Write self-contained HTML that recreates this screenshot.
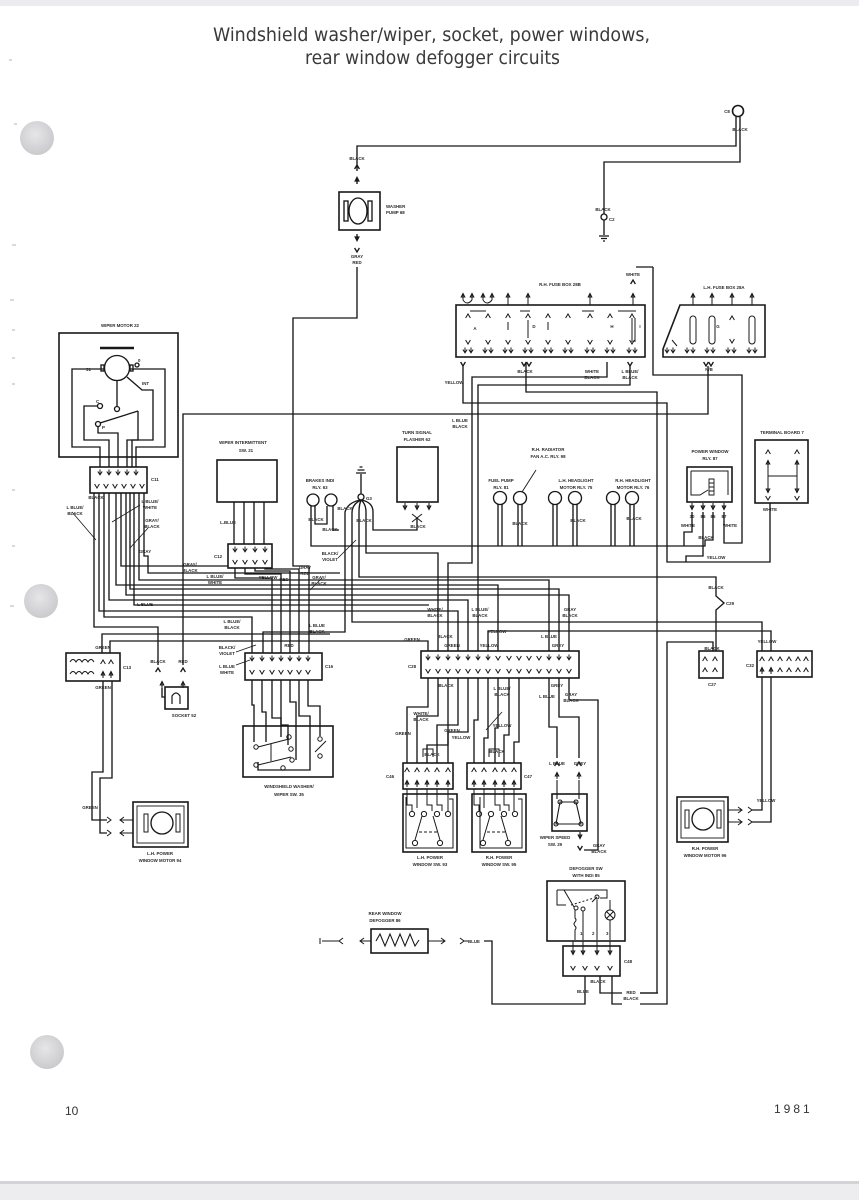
<!DOCTYPE html>
<html><head><meta charset="utf-8">
<style>
html,body{margin:0;padding:0;background:#fff;}
svg{display:block}
.t{font-family:"Liberation Sans",Arial,sans-serif;font-weight:bold;font-size:4.4px;fill:#2a2a2a;text-anchor:middle}
.tl{font-family:"Liberation Sans",Arial,sans-serif;font-weight:bold;font-size:4.4px;fill:#2a2a2a}
</style></head><body>
<svg width="859" height="1200" viewBox="0 0 859 1200" xmlns="http://www.w3.org/2000/svg">
<defs>
<radialGradient id="hole" cx="45%" cy="40%" r="65%">
<stop offset="0" stop-color="#e6e6e8"/><stop offset="1" stop-color="#c8c8cc"/>
</radialGradient>
<path id="v" d="M-2.4,-2 L0,2 L2.4,-2"/>
<path id="u" d="M-2.4,2 L0,-2 L2.4,2"/>
<path id="d" d="M-2.2,-1.5 L0,1.8 L2.2,-1.5 M0,1.8 V-3.5"/>
<path id="au" d="M-1.8,1 L0,-2.5 L1.8,1 Z M0,-2.5 V4"/>
<path id="ad" d="M-1.8,-1 L0,2.5 L1.8,-1 Z M0,2.5 V-4"/>
</defs>
<rect width="859" height="1200" fill="#fff"/>
<rect width="859" height="6" fill="#ececf0"/>
<rect y="1182" width="859" height="18" fill="#ededf0"/>
<rect y="1181" width="859" height="3" fill="#d4d4d8"/>

<!-- holes -->
<circle cx="37" cy="138" r="17" fill="url(#hole)"/>
<circle cx="41" cy="601" r="17" fill="url(#hole)"/>
<circle cx="47" cy="1052" r="17" fill="url(#hole)"/>

<!-- margin ticks -->
<g stroke="#9a9a9a" stroke-width="0.8">
<path d="M9,60 h3 M12,245 h4 M10,300 h4 M12,330 h3 M12,358 h3 M12,384 h3 M12,490 h3 M12,546 h3 M10,606 h4 M14,124 h3"/>
</g>

<!-- title -->
<text x="213" y="41" font-family="DejaVu Sans Condensed, Liberation Sans Narrow, Liberation Sans, Arial, sans-serif" font-size="19" fill="#3a3a3a" textLength="437" lengthAdjust="spacingAndGlyphs">Windshield washer/wiper, socket, power windows,</text>
<text x="305" y="64" font-family="DejaVu Sans Condensed, Liberation Sans Narrow, Liberation Sans, Arial, sans-serif" font-size="19" fill="#3a3a3a" textLength="255" lengthAdjust="spacingAndGlyphs">rear window defogger circuits</text>

<!-- footer -->
<text x="65" y="1115" font-family="Liberation Sans, Arial, sans-serif" font-size="12" fill="#333">10</text>
<text x="774" y="1113" font-family="Liberation Sans, Arial, sans-serif" font-size="12" fill="#333" letter-spacing="3">1981</text>

<g fill="none" stroke="#181818" stroke-width="1.35">
<!-- TOP wires -->
<path d="M357,171 V146 H736 V117"/>
<circle cx="738" cy="111" r="5.5" stroke-width="1.6"/>
<path d="M740,117 V162 H604 V214"/>
<circle cx="604" cy="217" r="3"/>
<path d="M604,220 V235 M599,236 h10 M601,238.5 h6 M603,241 h2"/>
<use href="#u" x="357" y="167"/>
<use href="#au" x="357" y="180"/>
<!-- washer pump -->
<rect x="339" y="192" width="41" height="38" stroke-width="1.6"/>
<ellipse cx="358" cy="211" rx="9" ry="13"/>
<rect x="344" y="201" width="4" height="20"/>
<rect x="368" y="201" width="4" height="20"/>
<use href="#ad" x="357" y="238"/>
<use href="#v" x="357" y="250"/>
<path d="M357,267 V318 H293 V566 H309 V653"/>

<!-- RH fuse box 28B -->
<rect x="456" y="305" width="189" height="52" stroke-width="1.6"/>
<g stroke-width="1">
<use href="#u" x="468" y="316"/><use href="#u" x="488" y="316"/><use href="#u" x="508" y="316"/><use href="#u" x="528" y="316"/><use href="#u" x="548" y="316"/><use href="#u" x="568" y="316"/><use href="#u" x="590" y="316"/><use href="#u" x="610" y="316"/><use href="#u" x="632" y="316"/>
<use href="#v" x="468" y="342"/><use href="#v" x="488" y="342"/><use href="#v" x="508" y="342"/><use href="#v" x="528" y="342"/><use href="#v" x="548" y="342"/><use href="#v" x="568" y="342"/><use href="#v" x="590" y="342"/><use href="#v" x="610" y="342"/><use href="#v" x="632" y="342"/>
<path d="M508,322 v8 M528,320 v18 M548,322 v8 M632,318 v24 M635,318 v24 M470,311 h16 M520,311 h10 M582,311 h12 M618,311 h18"/>
<use href="#d" x="465" y="351"/><use href="#d" x="471" y="351"/><use href="#d" x="485" y="351"/><use href="#d" x="491" y="351"/><use href="#d" x="505" y="351"/><use href="#d" x="511" y="351"/><use href="#d" x="525" y="351"/><use href="#d" x="531" y="351"/><use href="#d" x="545" y="351"/><use href="#d" x="551" y="351"/><use href="#d" x="565" y="351"/><use href="#d" x="571" y="351"/><use href="#d" x="587" y="351"/><use href="#d" x="593" y="351"/><use href="#d" x="607" y="351"/><use href="#d" x="613" y="351"/><use href="#d" x="629" y="351"/><use href="#d" x="635" y="351"/>
<use href="#au" x="463" y="296"/><use href="#au" x="472" y="296"/><use href="#au" x="483" y="296"/><use href="#au" x="492" y="296"/><use href="#au" x="508" y="296"/><use href="#au" x="528" y="296"/><use href="#au" x="590" y="296"/><use href="#au" x="633" y="296"/>
<path d="M463,300 q4,6 9,0 M483,300 q4,6 9,0 M508,300 v5 M528,300 v5 M590,300 v5 M633,300 v5"/>
</g>
<!-- LH fuse box 28A -->
<path d="M680,305 H765 V357 H663 V349 Z" stroke-width="1.6"/>
<g stroke-width="1">
<rect x="690" y="316" width="6" height="28" rx="3"/>
<rect x="709" y="316" width="6" height="28" rx="3"/>
<rect x="749" y="316" width="6" height="28" rx="3"/>
<use href="#u" x="732" y="318"/><use href="#v" x="732" y="341"/>
<use href="#au" x="693" y="296"/><use href="#au" x="712" y="296"/><use href="#au" x="732" y="296"/><use href="#au" x="752" y="296"/>
<path d="M693,300 v5 M712,300 v5 M732,300 v5 M752,300 v5 M672,340 l5,6"/>
<use href="#d" x="667" y="351"/><use href="#d" x="673" y="351"/><use href="#d" x="687" y="351"/><use href="#d" x="693" y="351"/><use href="#d" x="707" y="351"/><use href="#d" x="713" y="351"/><use href="#d" x="728" y="351"/><use href="#d" x="734" y="351"/><use href="#d" x="749" y="351"/><use href="#d" x="755" y="351"/>
</g>
<!-- white from 28B top -->
<use href="#u" x="633" y="282"/>
<path d="M653,267 H636 M653,267 V375 H742 V543 H724 V512"/>
<!-- fuse box outputs -->
<path d="M463,366 V403 H667 V562 H770 V503"/>
<use href="#v" x="463" y="364"/>
<path d="M526,362 V392 H657 V993 H640"/>
<use href="#v" x="524" y="364"/><use href="#v" x="529" y="364"/>
<path d="M607,362 V377 H472 V563 H448 V651"/>
<path d="M630,366 V385 H478 V651"/>
<use href="#v" x="630" y="364"/>
<use href="#v" x="706" y="364"/><use href="#v" x="711" y="364"/>
<path d="M708,366 V414 H183 V665"/>

<!-- WIPER MOTOR 22 -->
<rect x="59" y="333" width="119" height="124" stroke-width="1.6"/>
<path d="M100,348 H134" stroke-width="2.6"/>
<circle cx="117" cy="368" r="12.5"/>
<rect x="101" y="365" width="3" height="6"/>
<rect x="130" y="365" width="3" height="6"/>
<path d="M104,369 H72 V447 H100 V467"/>
<path d="M130,369 H165 V447 H136 V467"/>
<path d="M117,381 V406"/>
<circle cx="117" cy="409" r="2.5"/>
<circle cx="100" cy="406" r="2.5"/>
<circle cx="98" cy="424" r="2.5"/>
<path d="M100,423 L138,411"/>
<path d="M97,406 H84 V440 H109 V467"/>
<path d="M98,427 V433 H118 V467"/>
<path d="M138,411 V440 H127 V467"/>
<path d="M127,377 L142,390 H153 V440 H132 V467" />
<circle cx="137" cy="365" r="2"/>
<!-- C11 -->
<rect x="90" y="467" width="57" height="26" stroke-width="1.6"/>
<g stroke-width="1"><use href="#d" x="100" y="473"/><use href="#d" x="109" y="473"/><use href="#d" x="118" y="473"/><use href="#d" x="127" y="473"/><use href="#d" x="136" y="473"/>
<use href="#v" x="97" y="486"/><use href="#v" x="106" y="486"/><use href="#v" x="115" y="486"/><use href="#v" x="124" y="486"/><use href="#v" x="133" y="486"/><use href="#v" x="142" y="486"/></g>

<!-- C11 bundle -->
<path d="M94,493 V627 H158 V665"/>
<path d="M99,493 V611 H458 V651"/>
<path d="M104,493 V617 H252 V653"/>
<path d="M109,493 V600 H468 V651"/>
<path d="M116,493 V585 H498 V651"/>
<path d="M121,493 V566 H228"/>
<path d="M126,493 V595 H569 V651"/>
<path d="M130,493 V589 H559 V651"/>
<path d="M134,493 V605 H429"/>
<path d="M139,493 V580 H549 V651"/>
<path d="M144,493 V556 H148 V573 H340"/>
<path d="M72,512 L96,540 M140,505 L112,522 M148,528 L130,548" stroke-width="0.8"/>

<!-- WIPER INTERMITTENT 21 -->
<rect x="217" y="460" width="60" height="42" stroke-width="1.6"/>
<path d="M234,502 V544 M244,502 V544 M254,502 V544 M264,502 V544"/>
<rect x="228" y="544" width="44" height="24" stroke-width="1.6"/>
<g stroke-width="1"><use href="#d" x="235" y="550"/><use href="#d" x="245" y="550"/><use href="#d" x="255" y="550"/><use href="#d" x="265" y="550"/>
<use href="#v" x="235" y="562"/><use href="#v" x="245" y="562"/><use href="#v" x="255" y="562"/><use href="#v" x="265" y="562"/></g>
<path d="M235,568 V578 H272 V653"/>
<path d="M245,568 V574 H281 V653"/>
<path d="M255,568 V571 H290 V653"/>
<path d="M265,568 V569 H299 V653"/>

<!-- brakes, G3, flasher -->
<circle cx="313" cy="500" r="6"/>
<circle cx="331" cy="500" r="6"/>
<path d="M311,506 V546 H705 V540 H713 V512"/>
<path d="M315,506 V524 H327 V506 M333,506 V530 H339"/>
<circle cx="361" cy="497" r="3"/>
<path d="M361,494 V474 M356,473 h10 M357.5,470 h7 M359.5,467 h3"/>
<path d="M361,500 Q348,502 345,512 V632 H263 V653"/>
<path d="M361,500 Q352,504 352,513 V622 H762 V651"/>
<path d="M361,500 Q359,505 359,512 V577 H716 V596 L724,603 L716,610 V651"/>
<path d="M361,500 Q366,504 366,512 V553 H438 V651"/>
<path d="M361,500 Q373,502 373,512 V530 H417 V518"/>
<path d="M412,514 l10,8 M422,514 l-10,8" stroke-width="1"/>
<path d="M338,558 L356,540 M310,590 L322,578" stroke-width="0.8"/>
<rect x="397" y="447" width="41" height="55" stroke-width="1.6"/>
<g stroke-width="1"><use href="#ad" x="405" y="507"/><use href="#ad" x="417" y="507"/><use href="#ad" x="429" y="507"/></g>

<!-- relays -->
<circle cx="500" cy="498" r="6.5"/><circle cx="520" cy="498" r="6.5"/>
<circle cx="555" cy="498" r="6.5"/><circle cx="575" cy="498" r="6.5"/>
<circle cx="613" cy="498" r="6.5"/><circle cx="632" cy="498" r="6.5"/>
<path d="M498,504 V546 M502,504 V546 M518,504 V546 M522,504 V546 M553,504 V546 M557,504 V546 M573,504 V546 M577,504 V546 M611,504 V546 M615,504 V546 M630,504 V546 M634,504 V546"/>
<path d="M522,492 L536,470" stroke-width="0.9"/>

<!-- power window relay 87 -->
<rect x="687" y="467" width="45" height="35" stroke-width="1.6"/>
<path d="M691,471 H728 V495 M691,471 V495 H700 L708,490" stroke-width="1"/>
<path d="M709,479 h5 v16 h-5 z M709,483 h5 M709,487 h5 M709,491 h5" stroke-width="0.9"/>
<g stroke-width="1"><use href="#ad" x="692" y="507"/><use href="#ad" x="703" y="507"/><use href="#ad" x="713" y="507"/><use href="#ad" x="724" y="507"/></g>
<path d="M692,512 V532 H684 V546 M703,512 V556 H686 V562"/>

<!-- terminal board 7 -->
<rect x="755" y="440" width="53" height="63" stroke-width="1.6"/>
<g stroke-width="1"><use href="#u" x="768" y="452"/><use href="#u" x="797" y="452"/>
<path d="M768,460 V493 M797,460 V493 M768,476 H797"/>
<use href="#au" x="768" y="463"/><use href="#au" x="797" y="463"/>
<use href="#ad" x="768" y="490"/><use href="#ad" x="797" y="490"/>
<use href="#v" x="768" y="498"/><use href="#v" x="797" y="498"/></g>

<!-- green to C13 and C13 -->
<path d="M110,653 V641 H428 V651"/>
<path d="M102,653 V634 H330"/>
<rect x="66" y="653" width="54" height="28" stroke-width="1.6"/>
<path d="M70,662 q3,-5 6,0 q3,-5 6,0 q3,-5 6,0 q3,-5 6,0 M70,674 q3,-5 6,0 q3,-5 6,0 q3,-5 6,0 q3,-5 6,0" stroke-width="1"/>
<g stroke-width="1"><use href="#u" x="103" y="662"/><use href="#u" x="111" y="662"/><use href="#au" x="103" y="674"/><use href="#au" x="111" y="674"/></g>
<path d="M103,681 V772 H92 V820 H107 M112,681 V778 H100 V833 H107"/>
<path d="M107,817 l4,3 l-4,3 M107,830 l4,3 l-4,3" stroke-width="1"/>
<path d="M120,820 H133 M120,833 H133 M124,817 l-4,3 l4,3 M124,830 l-4,3 l4,3" stroke-width="1"/>
<!-- LH power window motor 94 -->
<rect x="133" y="802" width="55" height="45" stroke-width="1.6"/>
<rect x="137" y="806" width="47" height="37" stroke-width="0.9"/>
<circle cx="162" cy="823" r="11"/>
<path d="M144,814 h4 v18 h-4 z M176,814 h4 v18 h-4 z" stroke-width="1"/>

<!-- socket 52 -->
<use href="#u" x="158" y="670"/><use href="#u" x="183" y="670"/>
<g stroke-width="1"><use href="#au" x="162" y="684"/><use href="#au" x="183" y="684"/></g>
<path d="M162,688 V697 H165"/>
<rect x="165" y="687" width="23" height="22" stroke-width="1.6"/>
<path d="M172,704 V696 q4,-6 8,0 V704" stroke-width="1.2"/>

<!-- C16 -->
<rect x="245" y="653" width="77" height="27" stroke-width="1.6"/>
<g stroke-width="1"><use href="#d" x="252" y="659"/><use href="#d" x="262" y="659"/><use href="#d" x="272" y="659"/><use href="#d" x="281" y="659"/><use href="#d" x="290" y="659"/><use href="#d" x="299" y="659"/><use href="#d" x="308" y="659"/>
<use href="#v" x="252" y="672"/><use href="#v" x="262" y="672"/><use href="#v" x="272" y="672"/><use href="#v" x="281" y="672"/><use href="#v" x="290" y="672"/><use href="#v" x="299" y="672"/><use href="#v" x="308" y="672"/></g>
<path d="M236,652 L256,645 M236,665 L250,660" stroke-width="0.8"/>
<path d="M252,680 V705 H254 V742"/>
<path d="M262,680 V712 H266 V742"/>
<path d="M272,680 V718 H281 V737"/>
<path d="M281,680 V725 H288 V745"/>
<path d="M290,680 V702 H296 V760"/>
<path d="M299,680 V716 H310 V770 H258 V762"/>
<path d="M308,680 V706 H320 V736"/>
<!-- washer/wiper sw 35 -->
<rect x="243" y="726" width="90" height="51" stroke-width="1.6"/>
<g stroke-width="1">
<path d="M258,747 L289,739 M258,765 L291,757 M271,744 V761 M315,752 L326,741"/>
<circle cx="256" cy="747" r="2.2"/><circle cx="289" cy="737" r="2.2"/><circle cx="291" cy="749" r="2.2"/>
<circle cx="256" cy="765" r="2.2"/><circle cx="292" cy="760" r="2.2"/><circle cx="283" cy="768" r="2.2"/>
<circle cx="320" cy="739" r="2.2"/><circle cx="320" cy="756" r="2.2"/>
</g>

<!-- C28 -->
<rect x="421" y="651" width="158" height="27" stroke-width="1.6"/>
<g stroke-width="1">
<use href="#d" x="428" y="658"/><use href="#d" x="438" y="658"/><use href="#d" x="448" y="658"/><use href="#d" x="458" y="658"/><use href="#d" x="468" y="658"/><use href="#d" x="478" y="658"/><use href="#d" x="488" y="658"/><use href="#v" x="498" y="658"/><use href="#v" x="509" y="658"/><use href="#v" x="519" y="658"/><use href="#v" x="529" y="658"/><use href="#v" x="539" y="658"/><use href="#d" x="549" y="658"/><use href="#d" x="559" y="658"/><use href="#d" x="569" y="658"/>
<use href="#v" x="428" y="671"/><use href="#v" x="438" y="671"/><use href="#v" x="448" y="671"/><use href="#v" x="458" y="671"/><use href="#v" x="468" y="671"/><use href="#v" x="478" y="671"/><use href="#v" x="488" y="671"/><use href="#v" x="498" y="671"/><use href="#v" x="509" y="671"/><use href="#v" x="519" y="671"/><use href="#v" x="529" y="671"/><use href="#v" x="539" y="671"/><use href="#v" x="549" y="671"/><use href="#v" x="559" y="671"/><use href="#v" x="569" y="671"/>
</g>
<path d="M771,651 V631 H488 V651"/>
<!-- C28 below -->
<path d="M428,678 V707 H407 V763"/>
<path d="M438,678 V716 H417 V763"/>
<path d="M448,678 V745 H427 V763"/>
<path d="M458,678 V725 H437 V763"/>
<path d="M468,678 V732 H448 V763"/>
<path d="M478,678 V720 H474 V763"/>
<path d="M488,678 V738 H484 V763"/>
<path d="M498,678 V728 H495 V763"/>
<path d="M509,678 V735 H504 V763"/>
<path d="M519,678 V742 H514 V763"/>
<path d="M423,757 V749 H433 V757 M489,757 V749 H499 V757" stroke-width="1"/>
<path d="M486,730 L502,712" stroke-width="0.8"/>
<!-- C46 / C47 -->
<rect x="403" y="763" width="50" height="26" stroke-width="1.6"/>
<rect x="467" y="763" width="54" height="26" stroke-width="1.6"/>
<g stroke-width="1">
<use href="#u" x="407" y="770"/><use href="#u" x="417" y="770"/><use href="#u" x="427" y="770"/><use href="#u" x="437" y="770"/><use href="#u" x="448" y="770"/>
<use href="#au" x="407" y="783"/><use href="#au" x="417" y="783"/><use href="#au" x="427" y="783"/><use href="#au" x="437" y="783"/><use href="#au" x="448" y="783"/>
<use href="#u" x="474" y="770"/><use href="#u" x="484" y="770"/><use href="#u" x="495" y="770"/><use href="#u" x="504" y="770"/><use href="#u" x="514" y="770"/>
<use href="#au" x="474" y="783"/><use href="#au" x="484" y="783"/><use href="#au" x="495" y="783"/><use href="#au" x="504" y="783"/><use href="#au" x="514" y="783"/>
</g>
<!-- LH / RH power window switches -->
<rect x="403" y="794" width="54" height="58" stroke-width="1.6"/>
<rect x="472" y="794" width="54" height="58" stroke-width="1.6"/>
<g stroke-width="1">
<path d="M406,797 V848 H453 V799 H449 M480,797 V848 H522 V799 H518"/>
<path d="M407,789 V805 H412 V811 M417,789 V808 M427,789 V805 H432 V811 M437,789 V805 H442 V811 M448,789 V811"/>
<path d="M474,789 V805 H479 V811 M484,789 V808 M495,789 V805 H500 V811 M504,789 V805 H509 V811 M514,789 V811"/>
<circle cx="412" cy="814" r="2.6"/><circle cx="424" cy="814" r="2.6"/><circle cx="437" cy="814" r="2.6"/><circle cx="448" cy="814" r="2.6"/>
<circle cx="479" cy="814" r="2.6"/><circle cx="491" cy="814" r="2.6"/><circle cx="504" cy="814" r="2.6"/><circle cx="515" cy="814" r="2.6"/>
<circle cx="415" cy="843" r="2.6"/><circle cx="440" cy="843" r="2.6"/><circle cx="483" cy="843" r="2.6"/><circle cx="508" cy="843" r="2.6"/>
<path d="M415,840 L422,816 M440,840 L433,816 M483,840 L490,816 M508,840 L501,816"/>
<path d="M419,832 H437 M487,832 H505" stroke-dasharray="3,2"/>
</g>

<!-- wiper speed sw 29 -->
<path d="M549,678 V727 H557 V758"/>
<path d="M559,678 V717 H579 V758"/>
<path d="M569,678 V700 H598 V850 H584"/>
<use href="#u" x="557" y="764"/><use href="#u" x="579" y="764"/>
<g stroke-width="1"><use href="#au" x="557" y="775"/><use href="#au" x="579" y="775"/></g>
<rect x="552" y="794" width="35" height="37" stroke-width="1.6"/>
<g stroke-width="1.1"><path d="M557,780 V799 M579,780 V799 M560,802 H576 L581,824 H556 Z"/>
<circle cx="560" cy="802" r="2"/><circle cx="576" cy="802" r="2"/><circle cx="581" cy="824" r="2"/><circle cx="556" cy="824" r="2"/>
<use href="#ad" x="580" y="836"/></g>
<use href="#v" x="580" y="848"/>

<!-- defogger sw 85 -->
<rect x="547" y="881" width="78" height="60" stroke-width="1.6"/>
<g stroke-width="1">
<path d="M557,890 V905 H566 M557,890 H607 V898 H600"/>
<path d="M564,890 L574,907 M592,902 L597,897"/>
<path d="M571,905 L594,898" stroke-dasharray="2,2"/>
<circle cx="576" cy="908" r="2"/><circle cx="583" cy="909" r="2"/><circle cx="597" cy="897" r="2"/>
<path d="M575,910 V918 q2,2 0,4 q-2,2 0,4 q2,2 0,4 V940 M583,911 V940 M597,900 V940 M610,900 V910"/>
<circle cx="610" cy="915" r="5"/>
<path d="M606.5,911.5 l7,7 M613.5,911.5 l-7,7"/>
<path d="M610,920 V940"/>
</g>
<!-- C48 -->
<rect x="563" y="946" width="57" height="30" stroke-width="1.6"/>
<g stroke-width="1"><use href="#ad" x="573" y="952"/><use href="#ad" x="583" y="952"/><use href="#ad" x="597" y="952"/><use href="#ad" x="610" y="952"/>
<path d="M573,941 V948 M583,941 V948 M597,941 V948 M610,941 V948"/>
<use href="#v" x="573" y="968"/><use href="#v" x="585" y="968"/><use href="#v" x="597" y="968"/><use href="#v" x="610" y="968"/></g>
<path d="M585,976 V1004 H492 V941 H484"/>
<path d="M600,976 V993 H622"/>
<path d="M612,976 V1004 H622 M640,1004 H667 V642 H713 V651"/>
<path d="M658,993 H640"/>

<!-- rear window defogger 86 -->
<rect x="371" y="929" width="57" height="24" stroke-width="1.6"/>
<path d="M376,941 l4,-7 l5,12 l5,-12 l5,12 l5,-12 l5,12 l5,-12 l5,12 l4,-6" stroke-width="1.1"/>
<path d="M428,941 H445 M441,938 l4,3 l-4,3 M360,941 H371 M364,938 l-4,3 l4,3" stroke-width="1"/>
<path d="M460,938 l4,3 l-4,3 M464,941 H468 M343,938 l-4,3 l4,3 M339,941 H322 M320,938 v6" stroke-width="1"/>

<!-- C27 / C29 / C32 -->
<rect x="699" y="651" width="24" height="27" stroke-width="1.6"/>
<g stroke-width="1"><use href="#u" x="705" y="659"/><use href="#u" x="715" y="659"/><use href="#u" x="705" y="670"/><use href="#u" x="715" y="670"/></g>
<rect x="757" y="651" width="55" height="26" stroke-width="1.6"/>
<g stroke-width="1">
<use href="#u" x="762" y="659"/><use href="#u" x="771" y="659"/><use href="#u" x="780" y="659"/><use href="#u" x="789" y="659"/><use href="#u" x="798" y="659"/><use href="#u" x="806" y="659"/>
<use href="#au" x="762" y="670"/><use href="#au" x="771" y="670"/><use href="#u" x="780" y="670"/><use href="#u" x="789" y="670"/><use href="#u" x="798" y="670"/><use href="#u" x="806" y="670"/>
</g>
<path d="M762,677 V810 H752 M771,677 V822 H752"/>
<path d="M748,807 l4,3 l-4,3 M748,819 l4,3 l-4,3" stroke-width="1"/>
<path d="M728,810 H742 M728,822 H742 M738,807 l4,3 l-4,3 M738,819 l4,3 l-4,3" stroke-width="1"/>
<!-- RH power window motor 96 -->
<rect x="677" y="797" width="51" height="45" stroke-width="1.6"/>
<rect x="681" y="801" width="43" height="37" stroke-width="0.9"/>
<circle cx="703" cy="819" r="11"/>
<path d="M685,810 h4 v18 h-4 z M717,810 h4 v18 h-4 z" stroke-width="1"/>
</g>

<!-- labels -->
<g>
<text class="t" x="357" y="160">BLACK</text>
<text class="tl" x="386" y="208">WASHER</text><text class="tl" x="386" y="214">PUMP 68</text>
<text class="t" x="357" y="258">GRAY</text><text class="t" x="357" y="264">RED</text>
<text class="t" x="727" y="113">C8</text><text class="t" x="740" y="131">BLACK</text>
<text class="t" x="603" y="211">BLACK</text><text class="tl" x="609" y="221">C2</text>
<text class="t" x="633" y="276">WHITE</text>
<text class="t" x="560" y="286">R.H. FUSE BOX 28B</text>
<text class="t" x="724" y="289">L.H. FUSE BOX 28A</text>
<text class="t" x="475" y="330">A</text><text class="t" x="534" y="328">D</text><text class="t" x="612" y="328">H</text><text class="t" x="640" y="328">I</text><text class="t" x="718" y="328">G</text>
<text class="t" x="454" y="384">YELLOW</text>
<text class="t" x="525" y="373">BLACK</text>
<text class="t" x="592" y="373">WHITE</text><text class="t" x="592" y="379">BLACK</text>
<text class="t" x="630" y="373">L BLUE/</text><text class="t" x="630" y="379">BLACK</text>
<text class="t" x="709" y="371">N/B</text>
<text class="t" x="460" y="422">L BLUE</text><text class="t" x="460" y="428">BLACK</text>
<text class="t" x="120" y="327">WIPER MOTOR 22</text>
<text class="tl" x="86" y="371">31</text><text class="tl" x="138" y="362">0</text><text class="tl" x="142" y="385">INT</text>
<text class="tl" x="96" y="403">C</text><text class="tl" x="102" y="429">P</text>
<text class="tl" x="151" y="481">C11</text>
<text class="t" x="243" y="444">WIPER INTERMITTENT</text><text class="t" x="246" y="452">SW. 21</text>
<text class="t" x="228" y="524">L.BLUE</text>
<text class="tl" x="214" y="558">C12</text>
<text class="t" x="417" y="434">TURN SIGNAL</text><text class="t" x="417" y="441">FLASHER 62</text>
<text class="t" x="320" y="482">BRAKES INDI</text><text class="t" x="320" y="489">RLY. 63</text>
<text class="tl" x="366" y="500">G3</text>
<text class="t" x="316" y="521">BLACK</text><text class="t" x="330" y="531">BLACK</text><text class="t" x="345" y="510">BLACK</text><text class="t" x="364" y="522">BLACK</text><text class="t" x="418" y="528">BLACK</text>
<text class="t" x="330" y="555">BLACK/</text><text class="t" x="330" y="561">VIOLET</text>
<text class="t" x="548" y="451">R.H. RADIATOR</text><text class="t" x="548" y="458">FAN A.C. RLY. 98</text>
<text class="t" x="501" y="482">FUEL PUMP</text><text class="t" x="501" y="489">RLY. 81</text>
<text class="t" x="576" y="482">L.H. HEADLIGHT</text><text class="t" x="576" y="489">MOTOR RLY. 75</text>
<text class="t" x="633" y="482">R.H. HEADLIGHT</text><text class="t" x="633" y="489">MOTOR RLY. 76</text>
<text class="t" x="520" y="525">BLACK</text><text class="t" x="578" y="522">BLACK</text><text class="t" x="634" y="520">BLACK</text>
<text class="t" x="710" y="453">POWER WINDOW</text><text class="t" x="710" y="460">RLY. 87</text>
<text class="t" x="782" y="434">TERMINAL BOARD 7</text>
<text class="t" x="770" y="511">WHITE</text>
<text class="t" x="692" y="518">30</text><text class="t" x="703" y="518">86</text><text class="t" x="713" y="518">85</text><text class="t" x="724" y="518">87</text>
<text class="t" x="688" y="527">WHITE</text><text class="t" x="730" y="527">WHITE</text><text class="t" x="706" y="539">BLACK</text><text class="t" x="716" y="559">YELLOW</text>
<text class="t" x="716" y="589">BLACK</text><text class="tl" x="726" y="605">C29</text>
<text class="t" x="712" y="650">BLACK</text><text class="t" x="712" y="686">C27</text>
<text class="t" x="767" y="643">YELLOW</text><text class="tl" x="746" y="667">C32</text>
<text class="tl" x="408" y="668">C28</text>
<text class="t" x="435" y="611">WHITE/</text><text class="t" x="435" y="617">BLACK</text>
<text class="t" x="480" y="611">L BLUE/</text><text class="t" x="480" y="617">BLACK</text>
<text class="t" x="570" y="611">GRAY</text><text class="t" x="570" y="617">BLACK</text>
<text class="t" x="412" y="641">GREEN</text><text class="t" x="445" y="638">BLACK</text><text class="t" x="452" y="647">GREEN</text>
<text class="t" x="497" y="633">YELLOW</text><text class="t" x="489" y="647">YELLOW</text><text class="t" x="549" y="638">L BLUE</text><text class="t" x="558" y="647">GREY</text>
<text class="t" x="446" y="687">BLACK</text><text class="t" x="502" y="690">L BLUE/</text><text class="t" x="502" y="696">BLACK</text>
<text class="t" x="557" y="687">GREY</text><text class="t" x="547" y="698">L BLUE</text><text class="t" x="571" y="696">GRAY</text><text class="t" x="571" y="702">BLACK</text>
<text class="t" x="421" y="715">WHITE/</text><text class="t" x="421" y="721">BLACK</text><text class="t" x="403" y="735">GREEN</text>
<text class="t" x="452" y="732">GREEN</text><text class="t" x="461" y="739">YELLOW</text><text class="t" x="502" y="727">YELLOW</text>
<text class="t" x="432" y="756">BLACK</text><text class="t" x="497" y="753">BLACK</text>
<text class="t" x="557" y="765">L BLUE</text><text class="t" x="580" y="765">GREY</text>
<text class="tl" x="386" y="778">C46</text><text class="tl" x="524" y="778">C47</text>
<text class="t" x="430" y="859">L.H. POWER</text><text class="t" x="430" y="866">WINDOW SW. 93</text>
<text class="t" x="499" y="859">R.H. POWER</text><text class="t" x="499" y="866">WINDOW SW. 95</text>
<text class="t" x="555" y="839">WIPER SPEED</text><text class="t" x="555" y="846">SW. 29</text>
<text class="t" x="599" y="847">GRAY</text><text class="t" x="599" y="853">BLACK</text>
<text class="t" x="586" y="870">DEFOGGER SW</text><text class="t" x="586" y="877">WITH INDI 85</text>
<text class="tl" x="580" y="935">1</text><text class="tl" x="592" y="935">2</text><text class="tl" x="606" y="935">3</text>
<text class="t" x="705" y="850">R.H. POWER</text><text class="t" x="705" y="857">WINDOW MOTOR 96</text>
<text class="t" x="766" y="802">YELLOW</text>
<text class="t" x="385" y="915">REAR WINDOW</text><text class="t" x="385" y="922">DEFOGGER 86</text>
<text class="t" x="474" y="943">BLUE</text>
<text class="tl" x="624" y="963">C48</text>
<text class="t" x="598" y="983">BLACK</text><text class="t" x="583" y="993">BLUE</text>
<text class="t" x="631" y="994">RED</text><text class="t" x="631" y="1000">BLACK</text>
<text class="t" x="75" y="509">L BLUE/</text><text class="t" x="75" y="515">BLACK</text><text class="t" x="96" y="499">BLACK</text>
<text class="t" x="150" y="503">L BLUE/</text><text class="t" x="150" y="509">WHITE</text>
<text class="t" x="152" y="522">GRAY/</text><text class="t" x="152" y="528">BLACK</text><text class="t" x="145" y="553">GRAY</text>
<text class="t" x="190" y="566">GRAY/</text><text class="t" x="190" y="572">BLACK</text>
<text class="t" x="215" y="578">L BLUE/</text><text class="t" x="215" y="584">WHITE</text>
<text class="t" x="268" y="579">YELLOW</text><text class="t" x="284" y="581">RED</text>
<text class="t" x="305" y="569">GRAY</text><text class="t" x="305" y="575">RED</text>
<text class="t" x="319" y="579">GRAY/</text><text class="t" x="319" y="585">BLACK</text>
<text class="t" x="145" y="606">L BLUE</text>
<text class="t" x="232" y="623">L BLUE/</text><text class="t" x="232" y="629">BLACK</text>
<text class="t" x="317" y="627">L BLUE</text><text class="t" x="317" y="633">BLACK</text>
<text class="t" x="227" y="649">BLACK/</text><text class="t" x="227" y="655">VIOLET</text>
<text class="t" x="227" y="668">L BLUE</text><text class="t" x="227" y="674">WHITE</text>
<text class="t" x="289" y="647">RED</text>
<text class="tl" x="325" y="668">C16</text>
<text class="t" x="103" y="649">GREEN</text><text class="t" x="103" y="689">GREEN</text>
<text class="tl" x="123" y="669">C13</text>
<text class="t" x="158" y="663">BLACK</text><text class="t" x="183" y="663">RED</text>
<text class="t" x="184" y="717">SOCKET 52</text>
<text class="t" x="90" y="809">GREEN</text>
<text class="t" x="160" y="855">L.H. POWER</text><text class="t" x="160" y="862">WINDOW MOTOR 94</text>
<text class="t" x="289" y="788">WINDSHIELD WASHER/</text><text class="t" x="289" y="796">WIPER SW. 35</text>
</g>
</svg>
</body></html>
